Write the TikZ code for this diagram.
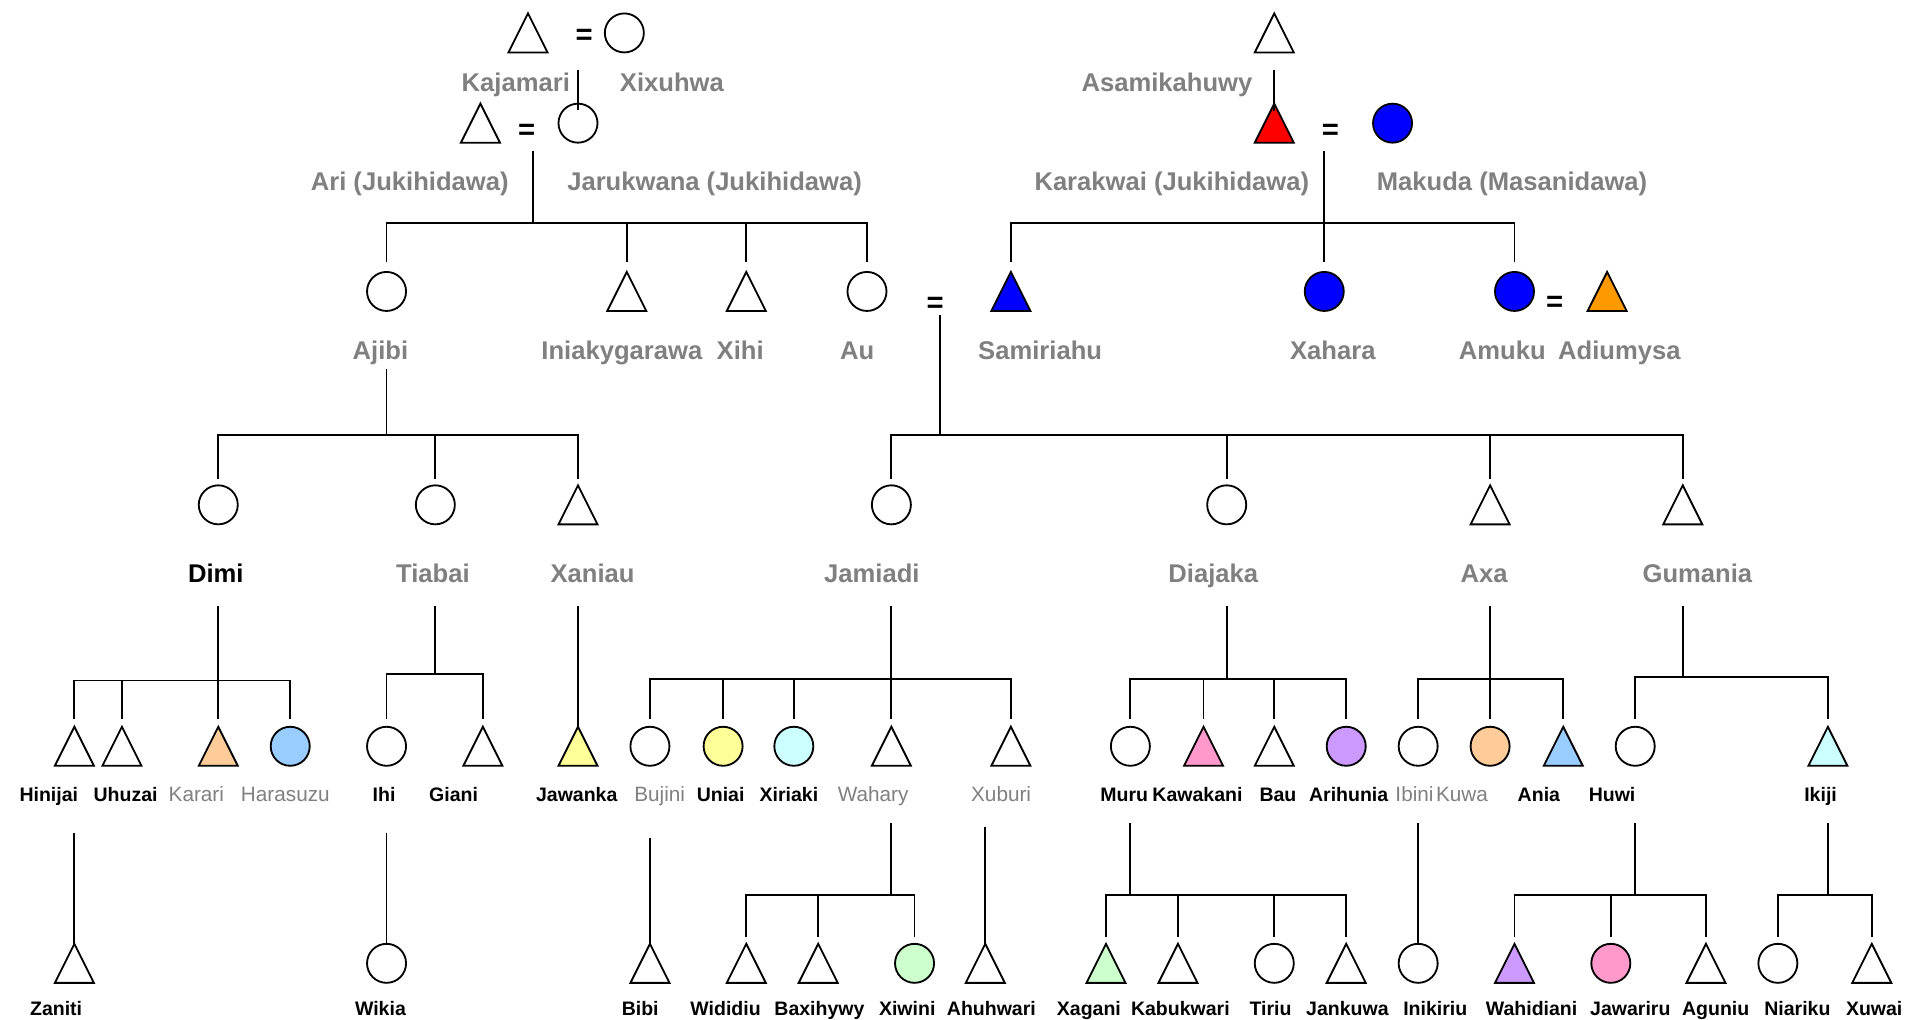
\documentclass[tikz,border=0pt]{standalone}
\usepackage{fontspec}
\setmainfont{Liberation Sans}
\usetikzlibrary{calc}

\definecolor{lbl}{HTML}{808080}
\definecolor{cRed}{HTML}{FF0000}
\definecolor{cBlue}{HTML}{0000FF}
\definecolor{cOrange}{HTML}{FF9900}
\definecolor{cPeach}{HTML}{FFCC99}
\definecolor{cSky}{HTML}{99CCFF}
\definecolor{cLemon}{HTML}{FFFF99}
\definecolor{cIce}{HTML}{CCFFFF}
\definecolor{cMint}{HTML}{CCFFCC}
\definecolor{cRose}{HTML}{FF99CC}
\definecolor{cLilac}{HTML}{CC99FF}

\tikzset{
  link/.style={line width=1.5pt},
  outline/.style={line width=1.5pt, line join=miter},
  mbox/.style={minimum width=32pt, minimum height=32pt, inner sep=0pt, outer sep=0pt},
  fem/.style={circle, draw, outline, minimum size=32pt, inner sep=0pt, outer sep=0pt},
  nm/.style={anchor=base, inner sep=0pt, text=lbl, font=\bfseries\fontsize{21}{21}\selectfont},
  nmk/.style={nm, text=black},
  kid/.style={anchor=base, inner sep=0pt, text=black, font=\bfseries\fontsize{16}{16}\selectfont},
  kidg/.style={anchor=base, inner sep=0pt, text=lbl, font=\fontsize{17}{17}\selectfont},
  eq/.style={inner sep=0pt, font=\bfseries\fontsize{24}{24}\selectfont}
}

% male: triangle, female: circle
\newcommand\mtri[4]{%
  \node[mbox] (#1) at (#2,#3) {};
  \filldraw[outline, fill=#4] (#1.south west) -- (#1.south east) -- (#1.north) -- cycle;}
\newcommand\fcirc[4]{\node[fem, fill=#4] (#1) at (#2,#3) {};}

\begin{document}
\begin{tikzpicture}[x=1pt,y=-1pt]
\fill[white] (0,0) rectangle (1568,836);
\useasboundingbox (0,0) rectangle (1568,836);

% ---------- eldest couples ----------
\mtri{kajamari}{433}{27}{white}
\node[eq] (eqA) at (479,30) {=};
\fcirc{xixuhwa}{512}{27}{white}
\mtri{asamikahuwy}{1045}{27}{white}
\node[nm] (kajamari-l) at (423,75) {Kajamari};
\node[nm] (xixuhwa-l) at (551,75) {Xixuhwa};
\node[nm] (asamikahuwy-l) at (957,75) {Asamikahuwy};

\mtri{ari}{394}{101}{white}
\node[eq] (eqB) at (432,108) {=};
\fcirc{jarukwana}{474}{101}{white}
\mtri{karakwai}{1045}{101}{cRed}
\node[eq] (eqC) at (1091,108) {=};
\fcirc{makuda}{1142}{101}{cBlue}
\node[nm] (ari-l) at (336,156) {Ari (Jukihidawa)};
\node[nm] (jarukwana-l) at (586,156) {Jarukwana (Jukihidawa)};
\node[nm] (karakwai-l) at (961,156) {Karakwai (Jukihidawa)};
\node[nm] (makuda-l) at (1240,156) {Makuda (Masanidawa)};

% ---------- generation 1 ----------
\foreach \n/\x/\c in {ajibi/317/white, au/711/white, xahara/1086/cBlue, amuku/1242/cBlue}
  {\fcirc{\n}{\x}{239}{\c}}
\foreach \n/\x/\c in {iniakygarawa/514/white, xihi/612/white, samiriahu/829/cBlue, adiumysa/1318/cOrange}
  {\mtri{\n}{\x}{239}{\c}}
\node[eq] (eqD) at (767,250) {=};
\node[eq] (eqE) at (1275,249) {=};
\foreach \n/\x/\t in {ajibi/312/Ajibi, iniakygarawa/510/Iniakygarawa, xihi/607/Xihi, au/703/Au,
  samiriahu/853/Samiriahu, xahara/1093/Xahara, amuku/1232/Amuku, adiumysa/1328/Adiumysa}
  {\node[nm] (\n-l) at (\x,295) {\t};}

% ---------- generation 2 ----------
\foreach \n/\x in {dimi/179, tiabai/357, jamiadi/731, diajaka/1006}
  {\fcirc{\n}{\x}{414}{white}}
\foreach \n/\x in {xaniau/474, axa/1222, gumania/1380}
  {\mtri{\n}{\x}{414}{white}}
\node[nmk] (dimi-l) at (177,478) {Dimi};
\foreach \n/\x/\t in {tiabai/355/Tiabai, xaniau/486/Xaniau, jamiadi/715/Jamiadi,
  diajaka/995/Diajaka, axa/1217/Axa, gumania/1392/Gumania}
  {\node[nm] (\n-l) at (\x,478) {\t};}

% ---------- generation 3 ----------
\foreach \n/\x/\c in {hinijai/61/white, uhuzai/100/white, karari/179/cPeach, giani/396/white,
  jawanka/474/cLemon, wahary/731/white, xuburi/829/white, kawakani/987/cRose, bau/1045/white,
  ania/1282/cSky, ikiji/1499/cIce}
  {\mtri{\n}{\x}{612}{\c}}
\foreach \n/\x/\c in {harasuzu/238/cSky, ihi/317/white, bujini/533/white, uniai/593/cLemon,
  xiriaki/651/cIce, muru/927/white, arihunia/1104/cLilac, ibini/1163/white, kuwa/1222/cPeach,
  huwi/1341/white}
  {\fcirc{\n}{\x}{612}{\c}}
\foreach \n/\x/\t in {hinijai/40/Hinijai, uhuzai/103/Uhuzai, ihi/315/Ihi, giani/372/Giani,
  jawanka/473/Jawanka, uniai/591/Uniai, xiriaki/647/Xiriaki, muru/922/Muru, kawakani/982/Kawakani,
  bau/1048/Bau, arihunia/1106/Arihunia, ania/1262/Ania, huwi/1322/Huwi, ikiji/1493/Ikiji}
  {\node[kid] (\n-l) at (\x,657) {\t};}
\foreach \n/\x/\t in {karari/161/Karari, harasuzu/234/Harasuzu, bujini/541/Bujini,
  wahary/716/Wahary, xuburi/821/Xuburi, ibini/1160/Ibini, kuwa/1199/Kuwa}
  {\node[kidg] (\n-l) at (\x,657) {\t};}

% ---------- generation 4 ----------
\foreach \n/\x/\c in {zaniti/61/white, bibi/533/white, wididiu/612/white, baxihywy/671/white,
  ahuhwari/808/white, xagani/907/cMint, kabukwari/966/white, jankuwa/1104/white,
  wahidiani/1242/cLilac, aguniu/1399/white, xuwai/1535/white}
  {\mtri{\n}{\x}{790}{\c}}
\foreach \n/\x/\c in {wikia/317/white, xiwini/750/cMint, tiriu/1045/white, inikiriu/1163/white,
  jawariru/1321/cRose, niariku/1458/white}
  {\fcirc{\n}{\x}{790}{\c}}
\foreach \n/\x/\t in {zaniti/46/Zaniti, wikia/312/Wikia, bibi/525/Bibi, wididiu/595/Wididiu,
  baxihywy/672/Baxihywy, xiwini/744/Xiwini, ahuhwari/813/Ahuhwari, xagani/893/Xagani,
  kabukwari/968/Kabukwari, tiriu/1042/Tiriu, jankuwa/1105/Jankuwa, inikiriu/1177/Inikiriu,
  wahidiani/1256/Wahidiani, jawariru/1337/Jawariru, aguniu/1407/Aguniu, niariku/1474/Niariku,
  xuwai/1537/Xuwai}
  {\node[kid] (\n-l) at (\x,833) {\t};}

% ---------- descent lines ----------
% single-child lines
\coordinate (d1) at (474,57);
\draw[link] (d1) -- ([yshift=-5pt]jarukwana.north);
\coordinate (d2) at (1045,57);
\draw[link] (d2) -- ([yshift=-6pt]karakwai.north);
\coordinate (d3) at (474,497);
\draw[link] (d3) -- ([yshift=-2pt]jawanka.north);
\coordinate (d4) at (61,683);
\draw[link] (d4) -- ([yshift=-2pt]zaniti.north);
\coordinate (d5) at (317,683);
\draw[link] (d5) -- (wikia.north);
\coordinate (d6) at (533,687);
\draw[link] (d6) -- ([yshift=-2pt]bibi.north);
\coordinate (d7) at (808,678);
\draw[link] (d7) -- ([yshift=-2pt]ahuhwari.north);
\coordinate (d8) at (1163,675);
\draw[link] (d8) -- (inikiriu.north);

% sibling groups: stem from (s) to bar (b), bar between outer children, drop to each child
\newcommand\sibs[6]{%
  \coordinate (#1s) at (#2,#3);
  \coordinate (#1b) at (#2,#4);
  \draw[link] (#1s) -- (#1b);
  \foreach \k [count=\i] in {#6} {
    \ifnum\i=1 \global\let\firstkid\k \fi
    \global\let\lastkid\k
    \draw[link] (\k.north |- #1b) -- ([yshift=#5]\k.north);
  }
  \draw[link, line cap=rect] (\firstkid.north |- #1b) -- (\lastkid.north |- #1b);
}
\sibs{ga}{437}{124}{183}{8pt}{ajibi,iniakygarawa,xihi,au}
\sibs{gb}{1086}{124}{183}{8pt}{samiriahu,xahara,amuku}
\sibs{gc}{317}{303}{357}{5pt}{dimi,tiabai,xaniau}
\sibs{gd}{771}{258}{357}{5pt}{jamiadi,diajaka,axa,gumania}
\sibs{ge}{179}{497}{558}{6pt}{hinijai,uhuzai,karari,harasuzu}
\sibs{gf}{357}{497}{553}{6pt}{ihi,giani}
\sibs{gg}{731}{497}{557}{6pt}{bujini,uniai,xiriaki,wahary,xuburi}
\sibs{gh}{1006}{497}{557}{6pt}{muru,kawakani,bau,arihunia}
\sibs{gi}{1222}{497}{557}{6pt}{ibini,kuwa,ania}
\sibs{gj}{1380}{497}{555}{6pt}{huwi,ikiji}
\sibs{gk}{731}{675}{734}{6pt}{wididiu,baxihywy,xiwini}
\sibs{gl}{927}{675}{734}{6pt}{xagani,kabukwari,tiriu,jankuwa}
\sibs{gm}{1341}{675}{734}{6pt}{wahidiani,jawariru,aguniu}
\sibs{gn}{1499}{675}{734}{6pt}{niariku,xuwai}
\end{tikzpicture}
\end{document}
